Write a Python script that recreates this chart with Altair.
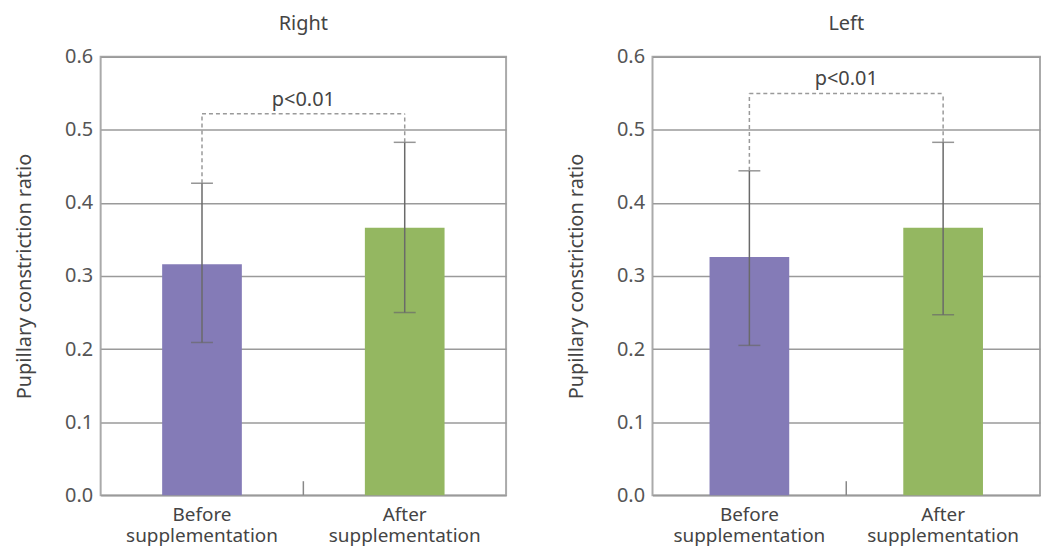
import altair as alt
import pandas as pd

# ---- data ----
sides = ["Right", "Left"]
conditions = ["Before supplementation", "After supplementation"]
right_means = [0.316, 0.366]
right_upper = [0.427, 0.483]
right_lower = [0.209, 0.250]
left_means = [0.326, 0.366]
left_upper = [0.444, 0.483]
left_lower = [0.205, 0.247]
bracket_levels = [0.522, 0.550]
p_labels = ["p<0.01", "p<0.01"]
bar_colors = ["#847bb7", "#94b761"]
y_ticks = [0.0, 0.1, 0.2, 0.3, 0.4, 0.5, 0.6]

FONT = "Noto Sans"
H = 440


def panel(side, means, upper, lower, bracket, plabel, W):
    df = pd.DataFrame({
        "condition": conditions,
        "mean": means,
        "upper": upper,
        "lower": lower,
        "bracket": [bracket, bracket],
    })
    xscale = alt.Scale(domain=conditions, paddingInner=0, paddingOuter=0)
    xenc = alt.X(
        "condition:N",
        scale=xscale,
        axis=alt.Axis(
            title=None, labelAngle=0, ticks=False, domain=False, grid=False,
            labelExpr="split(datum.label, ' ')", labelFontSize=19,
            labelLineHeight=22, labelPadding=10, labelColor="#444",
            labelFont=FONT,
        ),
    )
    xplain = alt.X("condition:N", scale=xscale)
    yscale = alt.Scale(domain=[0, 0.6], nice=False)
    yaxis = alt.Axis(
        title="Pupillary constriction ratio", values=y_ticks, format=".1f",
        ticks=False, domain=False, grid=True, gridColor="#9a9a9a",
        gridWidth=1.5, labelFontSize=20, labelColor="#555", labelFont=FONT,
        labelPadding=8, titleFontSize=20, titleFont=FONT,
        titleFontWeight="normal", titleColor="#444", titlePadding=30,
    )
    base = alt.Chart(df)
    bars = base.mark_bar(size=80).encode(
        x=xenc,
        y=alt.Y("mean:Q", scale=yscale, axis=yaxis),
        color=alt.Color("condition:N",
                        scale=alt.Scale(domain=conditions, range=bar_colors),
                        legend=None),
    )
    err = base.mark_rule(color="#6a6a6a", strokeWidth=1.5).encode(
        x=xplain, y=alt.Y("lower:Q"), y2="upper:Q",
    )
    cap_hi = base.mark_tick(color="#6a6a6a", size=22, thickness=1.5).encode(
        x=xplain, y=alt.Y("upper:Q"),
    )
    cap_lo = base.mark_tick(color="#6a6a6a", size=22, thickness=1.5).encode(
        x=xplain, y=alt.Y("lower:Q"),
    )
    vdash = base.mark_rule(color="#9a9a9a", strokeWidth=1.5, strokeDash=[4, 3]).encode(
        x=xplain, y=alt.Y("upper:Q"), y2="bracket:Q",
    )
    hdf = pd.DataFrame({"x1": [conditions[0]], "x2": [conditions[1]],
                        "b": [bracket], "label": [plabel]})
    hdash = alt.Chart(hdf).mark_rule(color="#9a9a9a", strokeWidth=1.5,
                                     strokeDash=[4, 3]).encode(
        x=alt.X("x1:N", scale=xscale), x2="x2:N", y=alt.Y("b:Q"),
    )
    ptext = alt.Chart(hdf).mark_text(
        font=FONT, fontSize=20, color="#444", dy=-8, baseline="alphabetic",
    ).encode(x=alt.value(W / 2), y=alt.Y("b:Q"), text="label:N")
    midtick = alt.Chart(pd.DataFrame({"k": [0]})).mark_rule(
        color="#888", strokeWidth=1.5
    ).encode(x=alt.value(W / 2), y=alt.value(H), y2=alt.value(H - 14))

    return alt.layer(bars, err, cap_hi, cap_lo, vdash, hdash, ptext, midtick).properties(
        width=W, height=H,
        title=alt.TitleParams(text=side, font=FONT, fontSize=20,
                              fontWeight="normal", color="#444", offset=13),
    )


right = panel(sides[0], right_means, right_upper, right_lower,
              bracket_levels[0], p_labels[0], 407)
left = panel(sides[1], left_means, left_upper, left_lower,
             bracket_levels[1], p_labels[1], 389)

chart = alt.hconcat(right, left, spacing=58).properties(
    padding={"left": 5, "top": 4, "right": 0, "bottom": 0}
).configure_view(
    stroke="#aaa", strokeWidth=2
)

chart.save("out.html", embed_options={"renderer": "svg", "actions": False})
